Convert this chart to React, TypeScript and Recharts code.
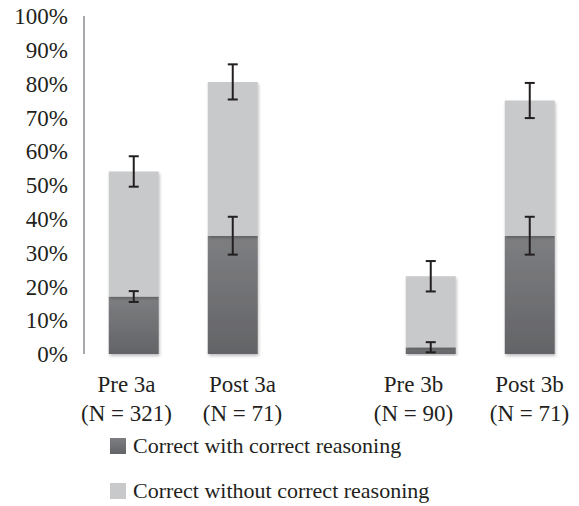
import { Bar, BarChart, ErrorBar, Legend, XAxis, YAxis } from 'recharts'

const groups = ['Pre 3a', 'Post 3a', '', 'Pre 3b', 'Post 3b']
const sampleSizes = ['(N = 321)', '(N = 71)', '', '(N = 90)', '(N = 71)']
const withReasoning = [17, 35, null, 2, 35]
const withoutReasoning = [37, 45.5, null, 21, 40]
const withReasoningErr = [1.6, 5.6, null, 1.5, 5.6]
const totalErr = [4.5, 5.2, null, 4.5, 5.2]
const yTicks = [0, 10, 20, 30, 40, 50, 60, 70, 80, 90, 100]

// labels in the source sit a bit off-centre under their bars
const LABEL_NUDGE = [-7, 10, 0, -17, 0]

const FONT = 'Liberation Serif, Times New Roman, Times, Tinos, DejaVu Serif, serif'
const DARK = 'url(#darkFill)'
const LIGHT = '#c8c9cb'

const data = groups.map((group, i) => ({
    group,
    n: sampleSizes[i],
    nudge: LABEL_NUDGE[i],
    withReasoning: withReasoning[i],
    withoutReasoning: withoutReasoning[i],
    withReasoningErr: withReasoningErr[i],
    totalErr: totalErr[i],
}))

function GroupTick({ x, y, payload, index }: any) {
    const row = data[index]
    if (!row || !row.group) return null
    return (
        <g transform={`translate(${x + row.nudge},${y})`}>
            <text textAnchor="middle" dy={30} fontSize={23} fontFamily={FONT} fill="#231f20">
                {payload.value}
            </text>
            <text textAnchor="middle" dy={59} fontSize={23} fontFamily={FONT} fill="#231f20">
                {row.n}
            </text>
        </g>
    )
}

const swatch: Record<string, string> = {
    withReasoning: 'linear-gradient(#7d7e81, #636467)',
    withoutReasoning: LIGHT,
}

function LegendList({ payload }: any) {
    return (
        <div style={{ fontFamily: FONT, fontSize: 22, color: '#231f20' }}>
            {(payload ?? []).map((item: any) => (
                <div key={item.dataKey} style={{ display: 'flex', alignItems: 'center', height: 45 }}>
                    <span
                        style={{
                            width: 16,
                            height: 16,
                            marginRight: 7,
                            background: swatch[item.dataKey],
                            display: 'inline-block',
                        }}
                    />
                    <span>{item.value}</span>
                </div>
            ))}
        </div>
    )
}

export default function App() {
    return (
        <div style={{ position: 'absolute', left: 0, top: 0, background: '#fff' }}>
            <BarChart
                width={579}
                height={506}
                data={data}
                margin={{ top: 16, right: 0, left: 0, bottom: 82 }}
                barCategoryGap="25%"
            >
                <defs>
                    <linearGradient id="darkFill" x1="0" y1="0" x2="0" y2="1">
                        <stop offset="0%" stopColor="#7d7e81" />
                        <stop offset="100%" stopColor="#636467" />
                    </linearGradient>
                    <filter id="barShadow" x="-10%" y="-10%" width="130%" height="130%">
                        <feDropShadow dx="1" dy="2" stdDeviation="1.5" floodColor="#000" floodOpacity="0.25" />
                    </filter>
                </defs>
                <XAxis
                    dataKey="group"
                    axisLine={false}
                    tickLine={false}
                    interval={0}
                    height={70}
                    tick={<GroupTick />}
                />
                <YAxis
                    width={84}
                    domain={[0, 100]}
                    ticks={yTicks}
                    tickFormatter={(v) => `${v}%`}
                    tickLine={false}
                    tickMargin={10}
                    axisLine={{ stroke: '#a7a9ac', strokeWidth: 2 }}
                    tick={{ fontSize: 23, fontFamily: FONT, fill: '#231f20' }}
                />
                <Legend
                    layout="vertical"
                    align="center"
                    verticalAlign="middle"
                    content={<LegendList />}
                    wrapperStyle={{ left: 110, top: 423, width: 'auto' }}
                />
                <Bar
                    dataKey="withReasoning"
                    name="Correct with correct reasoning"
                    stackId="a"
                    fill={DARK}
                    filter="url(#barShadow)"
                    isAnimationActive={false}
                >
                    <ErrorBar dataKey="withReasoningErr" width={5} stroke="#231f20" strokeWidth={2} />
                </Bar>
                <Bar
                    dataKey="withoutReasoning"
                    name="Correct without correct reasoning"
                    stackId="a"
                    fill={LIGHT}
                    filter="url(#barShadow)"
                    isAnimationActive={false}
                >
                    <ErrorBar dataKey="totalErr" width={5} stroke="#231f20" strokeWidth={2} />
                </Bar>
            </BarChart>
        </div>
    )
}
